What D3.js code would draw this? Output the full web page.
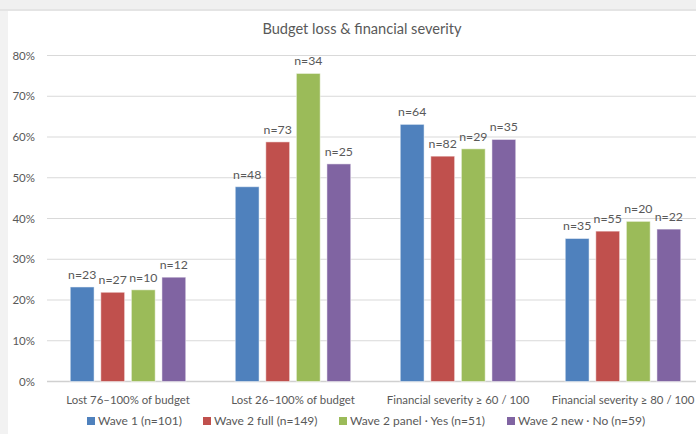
<!DOCTYPE html>
<html><head><meta charset="utf-8">
<script src="https://cdn.jsdelivr.net/npm/d3@7/dist/d3.min.js"></script>
<style>
html,body{margin:0;padding:0;background:#f2f2f2;}
svg{display:block;}
text{font-family:Lato,"Open Sans",sans-serif;fill:#595959;}
</style></head><body>
<svg id="c" width="696" height="434"></svg>
<script>
const categories = ["Lost 76\u2013100% of budget","Lost 26\u2013100% of budget","Financial severity \u2265 60 / 100","Financial severity \u2265 80 / 100"];
const seriesNames = ["Wave 1 (n=101)","Wave 2 full (n=149)","Wave 2 panel \u00b7 Yes (n=51)","Wave 2 new \u00b7 No (n=59)"];
const wave1 = [23.2, 47.8, 63.1, 35.1];
const wave2full = [21.9, 58.8, 55.3, 36.9];
const wave2panel = [22.5, 75.6, 57.1, 39.3];
const wave2new = [25.6, 53.4, 59.4, 37.4];
const nWave1 = [23, 48, 64, 35];
const nWave2full = [27, 73, 82, 55];
const nWave2panel = [10, 34, 29, 20];
const nWave2new = [12, 25, 35, 22];
const yTicks = [0,10,20,30,40,50,60,70,80];
const colors = ["#4F81BD","#C0504D","#9BBB59","#8064A2"];

const values = [wave1, wave2full, wave2panel, wave2new];
const ns = [nWave1, nWave2full, nWave2panel, nWave2new];

const svg = d3.select("#c");
// white panel
svg.append("rect").attr("x",0).attr("y",0).attr("width",696).attr("height",9).attr("fill","#f0f0f0");
svg.append("rect").attr("x",0).attr("y",9).attr("width",696).attr("height",2).attr("fill","#e4e4e4");
svg.append("rect").attr("x",8).attr("y",11).attr("width",688).attr("height",423).attr("fill","#ffffff");

const x = d3.scaleBand().domain(categories).range([45.5, 705.5]).paddingInner(0).paddingOuter(0);
const x1 = d3.scaleBand().domain(d3.range(4)).range([0, x.bandwidth()*0.70]).paddingInner(0.22).paddingOuter(0);
const y = d3.scaleLinear().domain([0,80]).range([381.5, 55.5]);

// grid
const grid = svg.append("g");
grid.selectAll("line").data(yTicks).join("line")
  .attr("x1",47).attr("x2",696)
  .attr("y1",d=>y(d)).attr("y2",d=>y(d))
  .attr("stroke",d=>d===0?"#d0d0d0":"#d9d9d9").attr("stroke-width",d=>d===0?1.5:1);

// y tick labels via axis
const yAxis = svg.append("g").attr("transform","translate(35,0)")
  .call(d3.axisLeft(y).tickValues(yTicks).tickFormat(d=>d+"%").tickSize(0).tickPadding(0));
yAxis.select(".domain").remove();
yAxis.selectAll("text").style("font-family","Lato, 'Open Sans', sans-serif").style("font-size","11.5px").attr("fill","#595959");

// bars
const groups = svg.append("g").selectAll("g").data(categories).join("g")
  .attr("transform",d=>`translate(${x(d)+x.bandwidth()*0.15},0)`);
groups.each(function(cat, ci){
  const g = d3.select(this);
  for (let s=0;s<4;s++){
    const v = values[s][ci];
    g.append("rect").attr("x",x1(s)).attr("y",y(v)).attr("width",x1.bandwidth()).attr("height",y(0)-y(v))
      .attr("fill",colors[s]).attr("stroke","#ffffff").attr("stroke-opacity",0.5).attr("stroke-width",1);
    g.append("text").attr("x",x1(s)+x1.bandwidth()/2).attr("y",y(v)-8)
      .attr("text-anchor","middle").style("font-size","12.3px").text("n="+ns[s][ci]);
  }
});

// category labels
const xAxis = svg.append("g").attr("transform","translate(0,381.5)")
  .call(d3.axisBottom(x).tickSize(0).tickPadding(14));
xAxis.select(".domain").remove();
xAxis.selectAll("text").style("font-family","Lato, 'Open Sans', sans-serif").style("font-size","11.4px").attr("fill","#595959");

// title
svg.append("text").attr("x",362).attr("y",34).attr("text-anchor","middle").style("font-size","14.6px").text("Budget loss & financial severity");

// legend
const legX = [87, 203, 339, 507];
const leg = svg.append("g").selectAll("g").data(seriesNames).join("g")
  .attr("transform",(d,i)=>`translate(${legX[i]},421)`);
leg.append("rect").attr("x",0).attr("y",-4).attr("width",8).attr("height",8).attr("fill",(d,i)=>colors[i]);
leg.append("text").attr("x",11).attr("y",4.3).style("font-size","12px").text(d=>d);
</script>
</body></html>
